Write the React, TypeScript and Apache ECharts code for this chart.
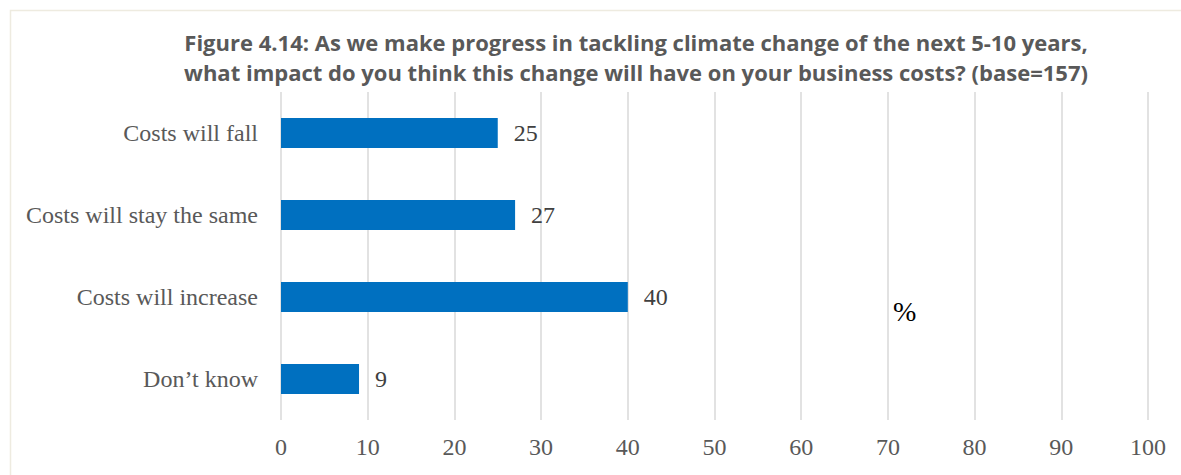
import React, { useEffect, useRef } from "react";
import * as echarts from "echarts";

const categories = ["Costs will fall", "Costs will stay the same", "Costs will increase", "Don’t know"];
const values = [25, 27, 40, 9];
const titleLines = [
  "Figure 4.14: As we make progress in tackling climate change of the next 5-10 years,",
  "what impact do you think this change will have on your business costs? (base=157)",
];
const axisName = "%";

export default function App() {
  const ref = useRef<HTMLDivElement>(null);
  useEffect(() => {
    const chart = echarts.init(ref.current!, null, { renderer: "svg" });
    chart.setOption({
      animation: false,
      backgroundColor: "#ffffff",
      title: {
        text: titleLines.join("\n"),
        left: 631,
        textAlign: "center",
        top: 22,
        textStyle: {
          fontFamily: "Open Sans",
          fontWeight: "bold",
          fontSize: 22,
          color: "#595959",
          lineHeight: 30,
        },
      },
      graphic: [
        {
          type: "rect",
          shape: { x: 10.5, y: 10.5, width: 1200, height: 500 },
          style: { fill: "none", stroke: "#eeebe0", lineWidth: 1.5 },
          silent: true,
        },
        {
          type: "text",
          left: 893,
          top: 297,
          style: { text: axisName, fontFamily: "Liberation Serif", fontSize: 28, fill: "#000000" },
        },
      ],
      grid: { left: 281, right: 33, top: 92, bottom: 55, containLabel: false },
      xAxis: {
        type: "value",
        min: 0,
        max: 100,
        interval: 10,
        axisLine: { show: false },
        axisTick: { show: false },
        splitLine: { show: true, lineStyle: { color: "#d9d9d9", width: 1.5 } },
        axisLabel: {
          margin: 15,
          fontFamily: "Liberation Serif",
          fontSize: 24,
          color: "#595959",
        },
      },
      yAxis: {
        type: "category",
        inverse: true,
        data: categories,
        axisLine: { show: false },
        axisTick: { show: false },
        axisLabel: {
          margin: 23,
          fontFamily: "Liberation Serif",
          fontSize: 24,
          color: "#595959",
        },
      },
      series: [
        {
          type: "bar",
          data: values,
          barWidth: 30,
          itemStyle: { color: "#0070c0" },
          label: {
            show: true,
            position: "right",
            distance: 16,
            fontFamily: "Liberation Serif",
            fontSize: 24,
            color: "#404040",
          },
        },
      ],
    });
    return () => chart.dispose();
  }, []);
  return (
    <div
      ref={ref}
      style={{ position: "absolute", left: 0, top: 0, width: 1181, height: 475 }}
    />
  );
}
